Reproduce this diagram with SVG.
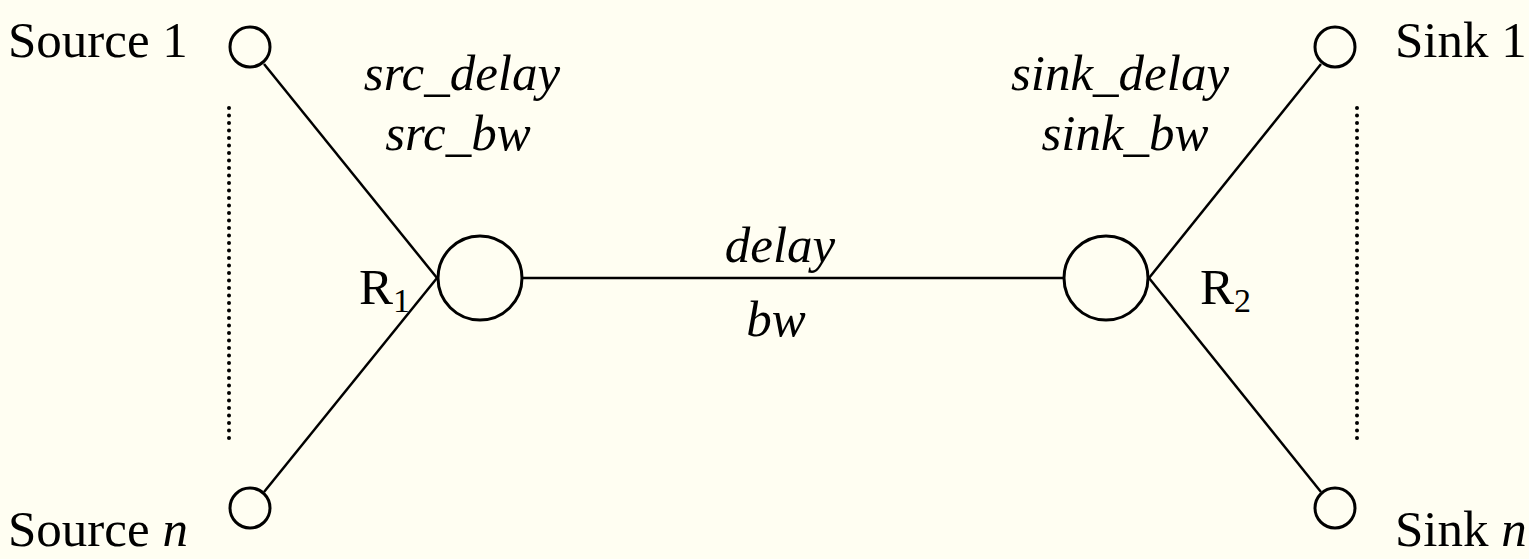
<svg xmlns="http://www.w3.org/2000/svg" width="1529" height="559" viewBox="0 0 1529 559">
<style>
text{font-family:'Liberation Serif','Times New Roman',serif;font-size:51px;fill:#000}
.i{font-style:italic}
.n{fill:none;stroke:#000;stroke-width:3}
.e{stroke:#000;stroke-width:2.5;fill:none}
.d{stroke:#000;stroke-width:4;stroke-dasharray:0 7.5;stroke-linecap:round;fill:none}
</style>
<rect width="1529" height="559" fill="#FFFEF2"/>
<g id="connectors">
<line class="e" x1="264" y1="64" x2="437" y2="278"/>
<line class="e" x1="264" y1="492" x2="437" y2="278"/>
<line class="e" x1="522" y1="278" x2="1064" y2="278"/>
<line class="e" x1="1149" y1="278" x2="1321" y2="64"/>
<line class="e" x1="1149" y1="278" x2="1321" y2="492"/>
<line class="d" x1="229" y1="108" x2="229" y2="440"/>
<line class="d" x1="1357" y1="108" x2="1357" y2="440"/>
</g>
<g id="source1"><circle class="n" cx="250" cy="47" r="20"/><text x="8" y="57">Source 1</text></g>
<g id="sourcen"><circle class="n" cx="250" cy="508" r="20"/><text x="8" y="546">Source <tspan class="i">n</tspan></text></g>
<g id="r1"><circle class="n" cx="480" cy="278" r="42"/><text x="359" y="304">R<tspan font-size="34" dy="8">1</tspan></text></g>
<g id="r2"><circle class="n" cx="1106" cy="278" r="42"/><text x="1200" y="304">R<tspan font-size="34" dy="8">2</tspan></text></g>
<g id="sink1"><circle class="n" cx="1335" cy="47" r="20"/><text x="1395" y="57">Sink 1</text></g>
<g id="sinkn"><circle class="n" cx="1335" cy="508" r="20"/><text x="1395" y="546">Sink <tspan class="i">n</tspan></text></g>
<g id="labels">
<text class="i" x="462" y="90" text-anchor="middle">src_delay</text>
<text class="i" x="458" y="150" text-anchor="middle">src_bw</text>
<text class="i" x="1120" y="90" text-anchor="middle">sink_delay</text>
<text class="i" x="1125" y="150" text-anchor="middle">sink_bw</text>
<text class="i" x="780" y="262" text-anchor="middle">delay</text>
<text class="i" x="776" y="336" text-anchor="middle">bw</text>
</g>
</svg>
